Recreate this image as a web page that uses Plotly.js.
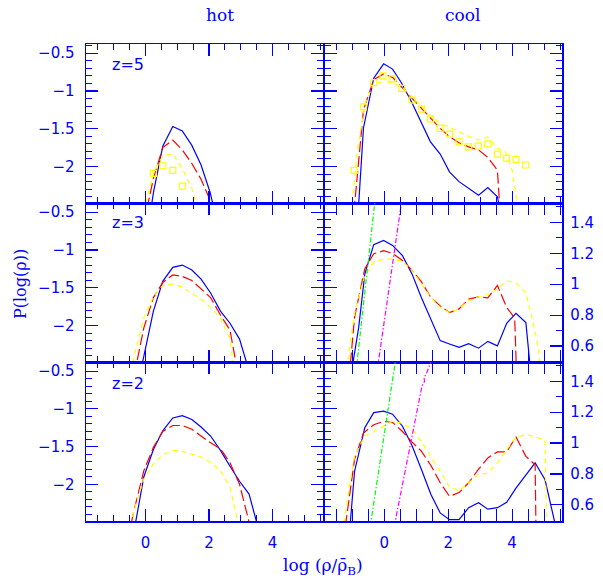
<!DOCTYPE html>
<html><head><meta charset="utf-8">
<script src="https://cdn.plot.ly/plotly-3.0.1.min.js"></script>
<style>html,body{margin:0;padding:0;background:#fff}#plot{width:603px;height:580px}</style>
</head><body><div id="plot"></div>
<script>
// ---------- data (log rho/rhobar, log P) ----------
// z=5 hot
const hot5_x = [-0.05,0.25,0.545,0.86,1.16,1.46,1.75,2.04,2.34];
const hot5_blue = [-3.2,-2.35,-1.73,-1.47,-1.53,-1.72,-1.98,-2.35,-2.9];
const hot5_red = [-2.75,-2.16,-1.75,-1.65,-1.78,-1.96,-2.17,-2.45,-2.9];
const hot5_yel_x = [-0.05,0.25,0.545,0.86,1.16,1.46,1.75];
const hot5_yel = [-2.6,-2.08,-1.86,-1.83,-2.03,-2.29,-2.7];
const hot5_sq_x = [0.25,0.545,0.86,1.16];
const hot5_sq = [-2.09,-1.99,-2.05,-2.26];
// z=5 cool
const cool5_x = [-0.95,-0.65,-0.33,-0.02,0.26,0.55,0.87,1.16,1.44,1.75,2.04,2.34,2.64,2.95,3.24,3.54,3.83];
const cool5_blue = [-3.5,-1.49,-0.83,-0.64,-0.71,-0.90,-1.16,-1.43,-1.67,-1.835,-2.07,-2.20,-2.29,-2.38,-2.28,-2.40,-3.0];
const cool5_red = [-2.6,-1.25,-0.85,-0.775,-0.82,-0.95,-1.10,-1.23,-1.36,-1.495,-1.605,-1.685,-1.74,-1.78,-1.88,-2.05,-4.0];
const cool5_yel_x = [-1.02,-0.85,-0.59,-0.33,-0.02,0.26,0.55,0.87,1.16,1.44,1.75,2.04,2.34,2.64,2.95,3.24,3.54,3.79,4.0,4.16,4.3];
const cool5_yel = [-2.6,-1.80,-1.16,-0.90,-0.875,-0.89,-0.95,-1.075,-1.2,-1.32,-1.43,-1.48,-1.545,-1.6,-1.65,-1.61,-1.76,-1.80,-2.05,-2.5,-2.9];
const cool5_sq_x = [-0.94,-0.65,-0.33,-0.04,0.26,0.55,0.87,1.16,1.45,1.75,2.04,2.34,2.64,2.95,3.24,3.54,3.83,4.12,4.42];
const cool5_sq = [-2.05,-1.21,-0.89,-0.80,-0.84,-0.965,-1.12,-1.24,-1.37,-1.495,-1.57,-1.675,-1.74,-1.73,-1.70,-1.835,-1.89,-1.905,-1.98];
// z=3 hot
const hot3_x = [-0.35,-0.05,0.25,0.545,0.86,1.16,1.46,1.75,2.05,2.36,2.66,2.96,3.26];
const hot3_blue = [-3.0,-2.4,-1.81,-1.415,-1.23,-1.20,-1.265,-1.385,-1.57,-1.81,-1.97,-2.18,-2.6];
const hot3_red_x = [-0.35,-0.05,0.25,0.545,0.86,1.16,1.46,1.75,2.05,2.36,2.66,2.96];
const hot3_red = [-2.65,-2.03,-1.63,-1.43,-1.33,-1.35,-1.405,-1.52,-1.63,-1.86,-2.06,-2.75];
const hot3_yel_x = [-0.65,-0.35,-0.05,0.25,0.545,0.86,1.16,1.46,1.75,2.05,2.36,2.66,2.96];
const hot3_yel = [-3.2,-2.4,-1.9,-1.62,-1.47,-1.45,-1.49,-1.58,-1.65,-1.76,-1.90,-2.18,-3.2];
// z=3 cool
const cool3_blue_x = [-1.02,-0.80,-0.61,-0.33,-0.02,0.26,0.57,0.87,1.16,1.46,1.75,2.04,2.34,2.64,2.95,3.24,3.54,3.83,4.12,4.43,4.6];
const cool3_blue = [-2.6,-2.025,-1.32,-0.93,-0.875,-0.94,-1.075,-1.32,-1.63,-1.915,-2.20,-2.245,-2.29,-2.24,-2.30,-2.21,-2.27,-1.97,-1.84,-1.96,-2.7];
const cool3_red_x = [-1.1,-0.93,-0.61,-0.33,-0.02,0.26,0.57,0.87,1.16,1.46,1.75,2.04,2.34,2.64,2.95,3.24,3.54,3.83,4.08,4.15];
const cool3_red = [-2.7,-1.89,-1.25,-1.05,-1.01,-1.045,-1.14,-1.27,-1.42,-1.63,-1.74,-1.83,-1.78,-1.65,-1.62,-1.635,-1.47,-1.76,-1.90,-2.8];
const cool3_yel_x = [-1.2,-1.06,-0.91,-0.61,-0.33,-0.02,0.26,0.57,0.87,1.16,1.46,1.75,2.04,2.34,2.64,2.95,3.24,3.54,3.83,4.12,4.43,4.62,4.78,4.92];
const cool3_yel = [-2.7,-2.2,-1.80,-1.34,-1.16,-1.12,-1.12,-1.15,-1.27,-1.45,-1.63,-1.76,-1.83,-1.78,-1.67,-1.62,-1.59,-1.52,-1.405,-1.44,-1.56,-1.89,-2.2,-2.65];
const cool3_grn_x = [-0.87,-0.28];
const cool3_grn = [0.46,1.56];
const cool3_mag_x = [-0.21,0.56];
const cool3_mag = [0.46,1.56];
// z=2 hot
const hot2_blue_x = [-0.35,-0.05,0.25,0.545,0.86,1.16,1.46,1.75,2.05,2.36,2.66,2.96,3.26,3.56];
const hot2_blue = [-2.6,-1.9,-1.54,-1.29,-1.12,-1.09,-1.14,-1.24,-1.36,-1.55,-1.76,-1.96,-2.13,-2.6];
const hot2_red_x = [-0.65,-0.35,-0.05,0.25,0.545,0.86,1.16,1.46,1.75,2.05,2.36,2.66,2.96,3.26,3.56];
const hot2_red = [-2.9,-2.33,-1.82,-1.51,-1.30,-1.22,-1.22,-1.27,-1.36,-1.45,-1.53,-1.715,-2.0,-2.46,-3.0];
const hot2_yel_x = [-0.65,-0.35,-0.05,0.25,0.545,0.86,1.16,1.46,1.75,2.05,2.36,2.66,2.96];
const hot2_yel = [-2.9,-2.33,-1.93,-1.73,-1.61,-1.55,-1.56,-1.60,-1.64,-1.71,-1.82,-2.04,-2.6];
// z=2 cool
const cool2_blue_x = [-1.1,-0.93,-0.61,-0.33,-0.02,0.26,0.57,0.87,1.16,1.46,1.75,2.04,2.34,2.64,2.95,3.24,3.54,3.83,4.12,4.43,4.72,5.03,5.32,5.45];
const cool2_blue = [-2.7,-1.83,-1.25,-1.05,-1.03,-1.07,-1.23,-1.49,-1.80,-2.135,-2.38,-2.47,-2.47,-2.31,-2.245,-2.33,-2.31,-2.24,-2.05,-1.88,-1.715,-1.94,-2.48,-2.72];
const cool2_red_x = [-1.28,-1.06,-0.93,-0.65,-0.33,-0.02,0.26,0.57,0.87,1.16,1.46,1.75,2.04,2.34,2.64,2.95,3.24,3.54,3.83,4.12,4.43,4.72,4.75];
const cool2_red = [-2.75,-2.07,-1.67,-1.32,-1.21,-1.165,-1.18,-1.30,-1.44,-1.56,-1.75,-1.98,-2.16,-2.11,-1.98,-1.80,-1.65,-1.57,-1.57,-1.37,-1.63,-1.74,-2.7];
const cool2_yel_x = [-1.35,-1.11,-0.93,-0.61,-0.33,-0.02,0.26,0.57,0.87,1.16,1.46,1.75,2.04,2.34,2.64,2.95,3.24,3.54,3.83,4.12,4.43,4.72,5.03,5.08];
const cool2_yel = [-2.75,-2.07,-1.63,-1.36,-1.30,-1.23,-1.165,-1.19,-1.27,-1.43,-1.63,-1.83,-2.03,-2.09,-1.98,-1.87,-1.85,-1.715,-1.54,-1.38,-1.34,-1.37,-1.415,-2.7];
const cool2_grn_x = [-0.44,0.37];
const cool2_grn = [0.46,1.56];
const cool2_mag_x = [0.31,1.18,1.26,1.24,1.30,1.52];
const cool2_mag = [0.46,1.37,1.40,1.43,1.44,1.56];

const colTitles = ['hot','cool'];
const rowLabels = ['z=5','z=3','z=2'];

// ---------- styling ----------
const BLUE='#0000ff', RED='#ff0000', YEL='#ffff00', GRN='#00ff00', MAG='#ff00ff';
const DASH_RED='11px,4px', DASH_YEL='5px,4px', DASH_DD='5px,2px,1.5px,2px';
function ln(x,y,color,dash,xa,ya){return {type:'scatter',mode:'lines',x:x,y:y,xaxis:xa,yaxis:ya,
  line:{color:color,width:1.2,dash:dash},hoverinfo:'skip',showlegend:false};}
function sq(x,y,xa,ya){return {type:'scatter',mode:'markers',x:x,y:y,xaxis:xa,yaxis:ya,
  marker:{symbol:'square-open',size:6,color:YEL,line:{width:1.2,color:YEL}},hoverinfo:'skip',showlegend:false};}

const traces = [
  ln(hot5_x,hot5_blue,BLUE,'solid','x','y'),
  ln(hot5_x,hot5_red,RED,DASH_RED,'x','y'),
  ln(hot5_yel_x,hot5_yel,YEL,DASH_YEL,'x','y'),
  sq(hot5_sq_x,hot5_sq,'x','y'),
  ln(cool5_x,cool5_blue,BLUE,'solid','x2','y2'),
  ln(cool5_x,cool5_red,RED,DASH_RED,'x2','y2'),
  ln(cool5_yel_x,cool5_yel,YEL,DASH_YEL,'x2','y2'),
  sq(cool5_sq_x,cool5_sq,'x2','y2'),
  ln(hot3_x,hot3_blue,BLUE,'solid','x3','y3'),
  ln(hot3_red_x,hot3_red,RED,DASH_RED,'x3','y3'),
  ln(hot3_yel_x,hot3_yel,YEL,DASH_YEL,'x3','y3'),
  ln(cool3_blue_x,cool3_blue,BLUE,'solid','x4','y4'),
  ln(cool3_red_x,cool3_red,RED,DASH_RED,'x4','y4'),
  ln(cool3_yel_x,cool3_yel,YEL,DASH_YEL,'x4','y4'),
  ln(cool3_grn_x,cool3_grn,GRN,DASH_DD,'x4','y7'),
  ln(cool3_mag_x,cool3_mag,MAG,DASH_DD,'x4','y7'),
  ln(hot2_blue_x,hot2_blue,BLUE,'solid','x5','y5'),
  ln(hot2_red_x,hot2_red,RED,DASH_RED,'x5','y5'),
  ln(hot2_yel_x,hot2_yel,YEL,DASH_YEL,'x5','y5'),
  ln(cool2_blue_x,cool2_blue,BLUE,'solid','x6','y6'),
  ln(cool2_red_x,cool2_red,RED,DASH_RED,'x6','y6'),
  ln(cool2_yel_x,cool2_yel,YEL,DASH_YEL,'x6','y6'),
  ln(cool2_grn_x,cool2_grn,GRN,DASH_DD,'x6','y8'),
  ln(cool2_mag_x,cool2_mag,MAG,DASH_DD,'x6','y8')
];

const W=603,H=580;
const XR=[-1.87,5.57], YR=[-2.487,-0.382], RR=[0.495,1.523];
const colL=[86/W,322.5/W], colR=[324.5/W,562.3/W];
const rowT=[1-203.3/H,1-44.3/H], rowM=[1-362.3/H,1-203.3/H], rowB=[1-521/H,1-362.3/H];
const tf={family:'DejaVu Sans',size:15,color:BLUE};
function common(){return {showline:true,linecolor:BLUE,linewidth:1.5,ticks:'inside',ticklen:12,tickwidth:1.2,
  tickcolor:BLUE,showgrid:false,zeroline:false,tickfont:tf,ticklabelstandoff:7,fixedrange:true};}
function xax(dom,anchor,labels){return Object.assign(common(),{domain:dom,anchor:anchor,range:XR,mirror:'allticks',
  tick0:0,dtick:2,minor:{ticks:'inside',ticklen:6,tickwidth:1,tickcolor:BLUE,tick0:0,dtick:0.5},showticklabels:labels});}
function yax(dom,anchor,labels,mirror){return Object.assign(common(),{domain:dom,anchor:anchor,range:YR,mirror:mirror,
  tick0:-0.5,dtick:0.5,minor:{ticks:'inside',ticklen:6,tickwidth:1,tickcolor:BLUE,tick0:-0.5,dtick:0.1},showticklabels:labels});}
function rax(over,anchor){return Object.assign(common(),{overlaying:over,anchor:anchor,side:'right',range:RR,showline:false,
  tick0:0.6,dtick:0.2,minor:{ticks:'inside',ticklen:6,tickwidth:1,tickcolor:BLUE,tick0:0.5,dtick:0.1},showticklabels:true});}

function ann(text,x,y,opts){return Object.assign({text:text,x:x/W,y:1-y/H,xref:'paper',yref:'paper',showarrow:false,
  xanchor:'center',yanchor:'middle',font:{family:'DejaVu Sans',size:15,color:BLUE}},opts||{});}

const layout = {
  width:W,height:H,margin:{l:0,r:0,t:0,b:0},paper_bgcolor:'#fff',plot_bgcolor:'rgba(0,0,0,0)',showlegend:false,
  xaxis:xax(colL,'y',false), yaxis:yax(rowT,'x',true,'allticks'),
  xaxis2:xax(colR,'y2',false), yaxis2:yax(rowT,'x2',false,'allticks'),
  xaxis3:xax(colL,'y3',false), yaxis3:yax(rowM,'x3',true,'allticks'),
  xaxis4:xax(colR,'y4',false), yaxis4:yax(rowM,'x4',false,true),
  xaxis5:xax(colL,'y5',true), yaxis5:yax(rowB,'x5',true,'allticks'),
  xaxis6:xax(colR,'y6',true), yaxis6:yax(rowB,'x6',false,true),
  yaxis7:rax('y4','x4'), yaxis8:rax('y6','x6'),
  annotations:[
    ann(colTitles[0],220,15,{font:{family:'DejaVu Serif',size:17,color:BLUE}}),
    ann(colTitles[1],463,15,{font:{family:'DejaVu Serif',size:17,color:BLUE}}),
    ann(rowLabels[0],110,64,{xanchor:'left',font:{family:'DejaVu Sans',size:16,color:BLUE}}),
    ann(rowLabels[1],110,223,{xanchor:'left',font:{family:'DejaVu Sans',size:16,color:BLUE}}),
    ann(rowLabels[2],110,383,{xanchor:'left',font:{family:'DejaVu Sans',size:16,color:BLUE}}),
    ann('P(log(\u03c1))',20,284,{textangle:-90,font:{family:'DejaVu Serif',size:16,color:BLUE}}),
    ann('log (\u03c1/\u03c1\u0304<sub>B</sub>)',323,566,{font:{family:'DejaVu Serif',size:17,color:BLUE}})
  ]
};
Plotly.newPlot('plot',traces,layout,{staticPlot:true,displayModeBar:false});
</script></body></html>
